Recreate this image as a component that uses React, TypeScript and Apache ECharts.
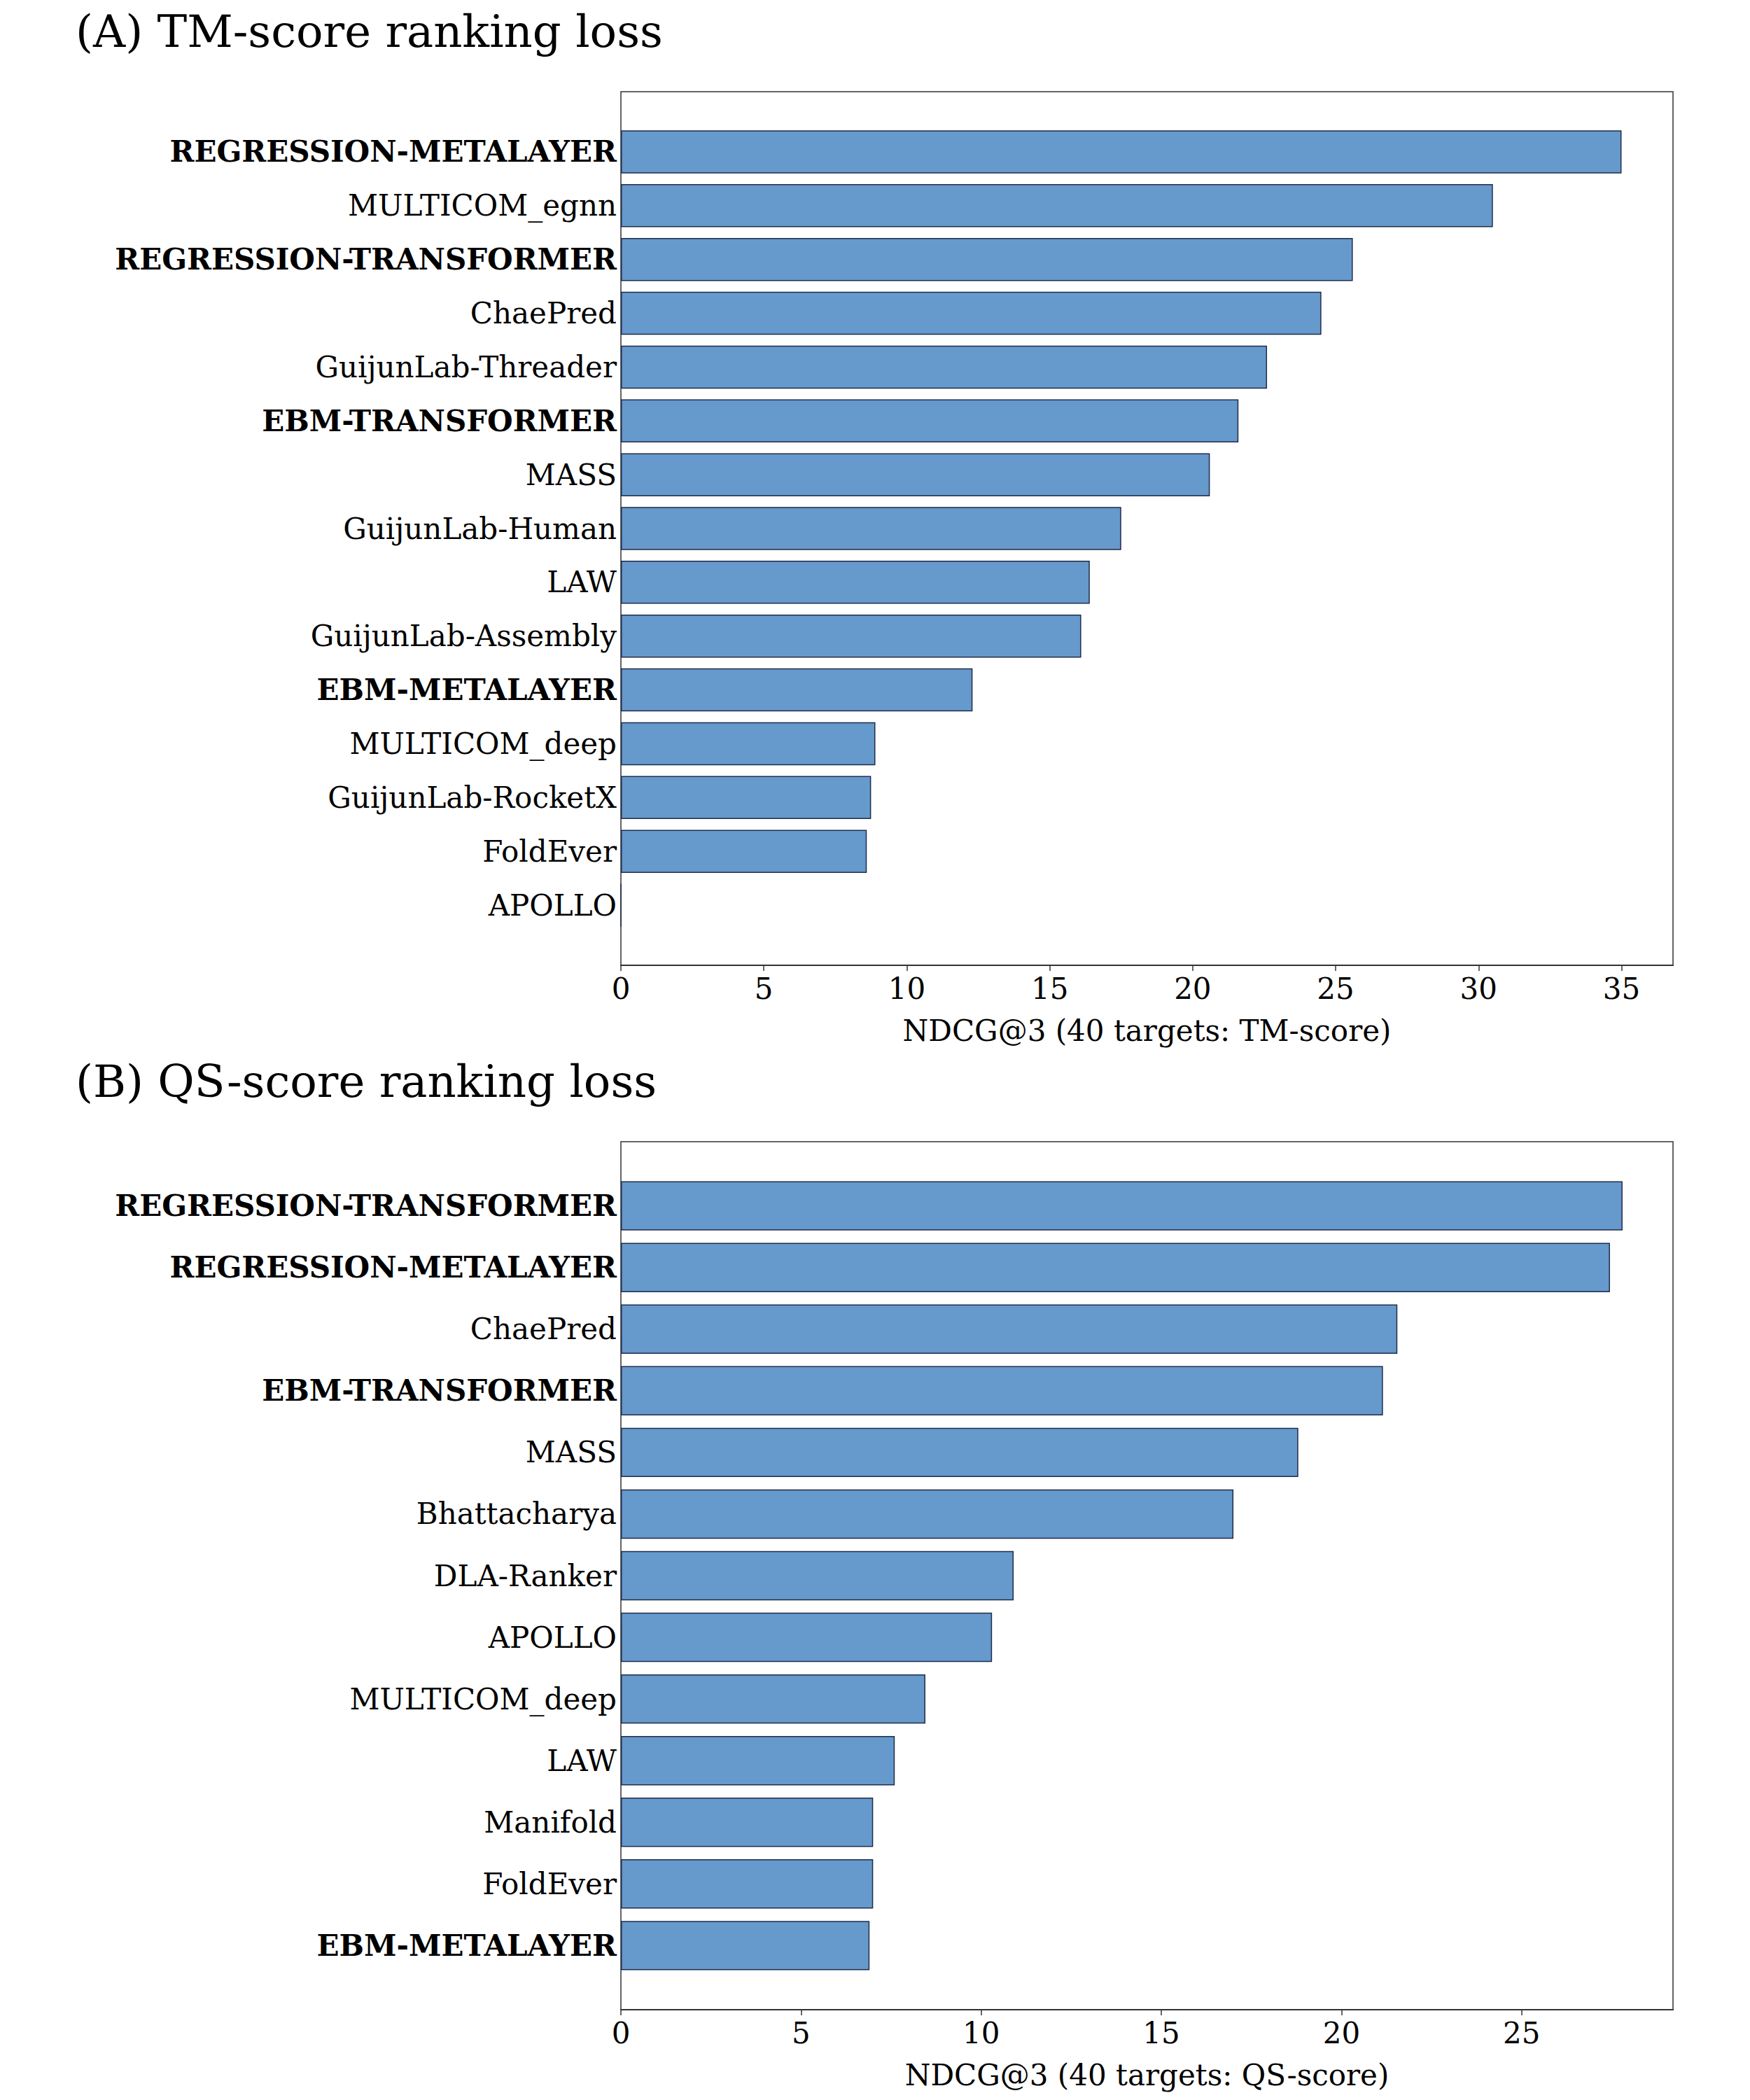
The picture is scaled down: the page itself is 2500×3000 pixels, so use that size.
import React, { useEffect, useRef } from "react";
import * as echarts from "echarts";

const catsA = ["REGRESSION-METALAYER","MULTICOM_egnn","REGRESSION-TRANSFORMER","ChaePred","GuijunLab-Threader","EBM-TRANSFORMER","MASS","GuijunLab-Human","LAW","GuijunLab-Assembly","EBM-METALAYER","MULTICOM_deep","GuijunLab-RocketX","FoldEver","APOLLO"];
const valsA = [35.0,30.5,25.6,24.5,22.6,21.6,20.6,17.5,16.4,16.1,12.3,8.9,8.75,8.6,0];
const catsB = ["REGRESSION-TRANSFORMER","REGRESSION-METALAYER","ChaePred","EBM-TRANSFORMER","MASS","Bhattacharya","DLA-Ranker","APOLLO","MULTICOM_deep","LAW","Manifold","FoldEver","EBM-METALAYER"];
const valsB = [27.8,27.45,21.55,21.15,18.8,17.0,10.9,10.3,8.45,7.6,7.0,7.0,6.9];
const boldNames = ["REGRESSION-METALAYER","REGRESSION-TRANSFORMER","EBM-TRANSFORMER","EBM-METALAYER"];
const titles = ["(A) TM-score ranking loss", "(B) QS-score ranking loss"];
const xNames = ["NDCG@3 (40 targets: TM-score)", "NDCG@3 (40 targets: QS-score)"];
const xMax = [36.8, 29.2];

const FONT = "DejaVu Serif";

export default function App() {
  const ref = useRef<HTMLDivElement>(null);
  useEffect(() => {
    const chart = echarts.init(ref.current!, null, { renderer: "svg" });
    const panels = [
      { cats: catsA, vals: valsA, top: 131, bottom: 1379, margin: 47.5 },
      { cats: catsB, vals: valsB, top: 1631, bottom: 2871, margin: 47.6 },
    ];
    const grid: any[] = [], xAxis: any[] = [], yAxis: any[] = [], series: any[] = [], title: any[] = [];
    panels.forEach((p, i) => {
      title.push({ text: titles[i], left: 103, top: i === 0 ? 8 : 1508,
        textStyle: { fontFamily: FONT, fontSize: 64, fontWeight: "normal", color: "#000" } });
      // frame grid
      grid.push({ left: 887, right: 110, top: p.top, height: p.bottom - p.top, show: true, borderColor: "#333", borderWidth: 1.5, backgroundColor: "transparent" });
      // bar grid
      grid.push({ left: 887, right: 110, top: p.top + p.margin, height: p.bottom - p.top - 2 * p.margin });
      xAxis.push({ gridIndex: 2 * i, type: "value", min: 0, max: xMax[i], interval: 5,
        name: xNames[i], nameLocation: "middle", nameGap: 72,
        nameTextStyle: { fontFamily: FONT, fontSize: 42, color: "#000" },
        axisLine: { show: true, lineStyle: { color: "#333", width: 2 } },
        axisTick: { show: true, length: 8, lineStyle: { color: "#333", width: 1.5 } },
        axisLabel: { fontFamily: FONT, fontSize: 42, color: "#000", margin: 12, showMaxLabel: false },
        splitLine: { show: false } });
      xAxis.push({ gridIndex: 2 * i + 1, type: "value", min: 0, max: xMax[i], show: false, splitLine: { show: false } });
      yAxis.push({ gridIndex: 2 * i, type: "value", show: false, splitLine: { show: false } });
      yAxis.push({ gridIndex: 2 * i + 1, type: "category", inverse: true, data: p.cats,
        axisLine: { show: false }, axisTick: { show: false },
        axisLabel: { margin: 6, formatter: (v: string) => boldNames.includes(v) ? `{b|${v}}` : `{n|${v}}`,
          rich: { b: { fontFamily: FONT, fontSize: 42, fontWeight: "bold", color: "#000" },
                  n: { fontFamily: FONT, fontSize: 42, color: "#000" } } } });
      series.push({ type: "bar", xAxisIndex: 2 * i + 1, yAxisIndex: 2 * i + 1, data: p.vals, barWidth: "80%",
        itemStyle: { color: "#6699cc", borderColor: "#1f2d4a", borderWidth: 1.5 } });
    });
    chart.setOption({ animation: false, backgroundColor: "#fff", title, grid, xAxis, yAxis, series });
    return () => chart.dispose();
  }, []);
  return <div ref={ref} style={{ position: "absolute", left: 0, top: 0, width: 2500, height: 3000 }} />;
}
